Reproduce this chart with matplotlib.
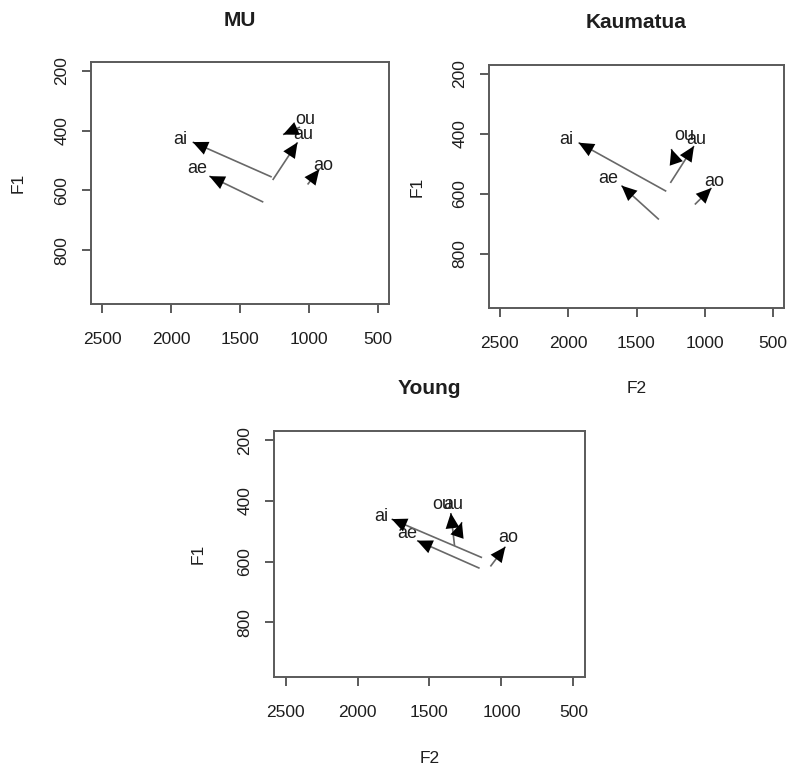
import matplotlib
matplotlib.use("Agg")
import matplotlib.pyplot as plt
from matplotlib.patches import FancyArrowPatch

plt.rcParams['font.family'] = ['Liberation Sans', 'DejaVu Sans']

# ---------------- data ----------------
diphthongs = ['ai', 'ae', 'au', 'ou', 'ao']

x_ticks = [2500, 2000, 1500, 1000, 500]
y_ticks = [200, 400, 600, 800]

# MU
mu_f2_start = [1270, 1331, 1263, 1065, 1010]
mu_f1_start = [555, 639, 565, 388, 580]
mu_f2_end = [1843, 1722, 1083, 1188, 925]
mu_f1_end = [438, 552, 439, 413, 529]
mu_lab_f2 = [1935, 1809, 1040, 1029, 899]
mu_lab_f1 = [431, 527, 412, 361, 516]

# Kaumatua
ka_f2_start = [1282, 1336, 1252, 1215, 1073]
ka_f1_start = [591, 685, 563, 490, 635]
ka_f2_end = [1924, 1610, 1079, 1245, 951]
ka_f1_end = [429, 572, 440, 450, 580]
ka_lab_f2 = [2017, 1704, 1061, 1147, 934]
ka_lab_f1 = [418, 549, 420, 404, 558]

# Young
yo_f2_start = [1135, 1152, 1326, 1300, 1077]
yo_f1_start = [587, 622, 548, 505, 616]
yo_f2_end = [1763, 1586, 1352, 1275, 973]
yo_f1_end = [460, 531, 440, 470, 551]
yo_lab_f2 = [1333, 1658, 1333, 1410, 950]
yo_lab_f1 = [451, 509, 413, 413, 520]
yo_lab_f2[0] = 1833

# --------------- figure ---------------
W, H = 788, 768
fig = plt.figure(figsize=(W / 100, H / 100), dpi=100)

def px_axes(l, t, r, b):
    return [l / W, 1 - b / H, (r - l) / W, (b - t) / H]

panels = [
    dict(title='MU', rect=px_axes(91, 62, 389, 304), f1=True, f2=False,
         xs=mu_f2_start, ys=mu_f1_start, xe=mu_f2_end, ye=mu_f1_end,
         lx=mu_lab_f2, ly=mu_lab_f1),
    dict(title='Kaumatua', rect=px_axes(489, 65, 784, 308), f1=True, f2=True,
         xs=ka_f2_start, ys=ka_f1_start, xe=ka_f2_end, ye=ka_f1_end,
         lx=ka_lab_f2, ly=ka_lab_f1),
    dict(title='Young', rect=px_axes(274, 431, 585, 677), f1=True, f2=True,
         xs=yo_f2_start, ys=yo_f1_start, xe=yo_f2_end, ye=yo_f1_end,
         lx=yo_lab_f2, ly=yo_lab_f1),
]

frame_col = '#5a5a5a'
text_col = '#1e1e1e'

for p in panels:
    ax = fig.add_axes(p['rect'])
    ax.set_xlim(2580, 420)
    ax.set_ylim(980, 170)
    ax.set_xticks(x_ticks)
    ax.set_yticks(y_ticks)
    ax.set_xticklabels([str(v) for v in x_ticks])
    ax.set_yticklabels([str(v) for v in y_ticks])
    for s in ax.spines.values():
        s.set_color(frame_col)
        s.set_linewidth(1.4)
    ax.tick_params(direction='out', length=6.5, width=1.4, color=frame_col,
                   labelsize=12.5, labelcolor=text_col)
    ax.tick_params(axis='x', pad=14)
    ax.tick_params(axis='y', pad=9)
    for lbl in ax.get_yticklabels():
        lbl.set_rotation(90)
        lbl.set_va('center')

    ax.text(0.5, 1.173, p['title'], transform=ax.transAxes, ha='center',
            va='center', fontsize=15, fontweight='bold', color=text_col)
    if p['f1']:
        ax.text(-0.245, 0.5, 'F1', transform=ax.transAxes, rotation=90,
                ha='center', va='center', fontsize=12.5, color=text_col)
    if p['f2']:
        ax.text(0.5, -0.33, 'F2', transform=ax.transAxes, ha='center',
                va='center', fontsize=12.5, color=text_col)

    for name, lx, ly in zip(diphthongs, p['lx'], p['ly']):
        ax.text(lx, ly, name, ha='center', va='center', fontsize=13,
                color=text_col, zorder=2)

    for x0, y0, x1, y1 in zip(p['xs'], p['ys'], p['xe'], p['ye']):
        ax.plot([x0, x1], [y0, y1], color='#686868', lw=1.2, zorder=3,
                solid_capstyle='butt')
        head = FancyArrowPatch((x0, y0), (x1, y1),
                               arrowstyle='-|>,head_length=0.55,head_width=0.25',
                               mutation_scale=20, color='black', lw=0,
                               shrinkA=0, shrinkB=0, zorder=4)
        ax.add_patch(head)

fig.savefig('out.png', dpi=100)
